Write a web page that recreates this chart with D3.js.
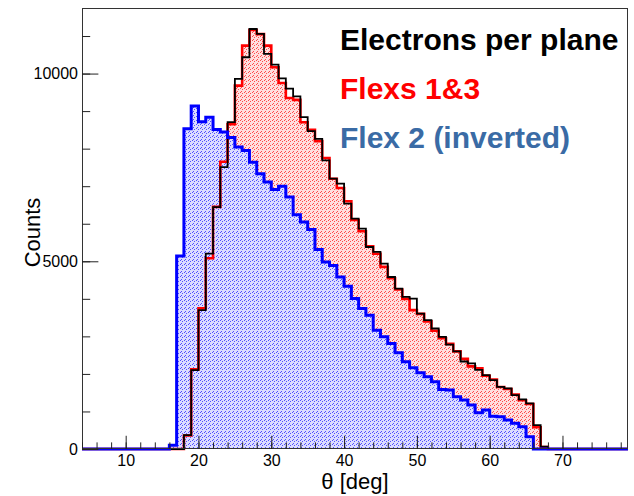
<!DOCTYPE html>
<html>
<head>
<meta charset="utf-8">
<script src="https://cdn.jsdelivr.net/npm/d3@7"></script>
<style>
  body { margin: 0; background: #fff; }
  svg { display: block; font-family: "Liberation Sans", Arial, sans-serif; }
</style>
</head>
<body>
<svg id="chart" width="634" height="496"></svg>
<script>
// Histogram binning: 1 deg bins, lower edges from 4 to 78
const binStart = 4;
const binWidth = 1;

// Electrons per plane (black outline)
const electrons = [
  0, 0, 0, 0, 0, 0, 0, 0, 0, 0, 0, 0, 0, 0,           // 4-17
  372, 2100, 3700, 5205, 6445, 7510, 8705, 9860,       // 18-25
  10435, 11187, 11055, 10523, 10240, 9870, 9600, 9390, // 26-33
  8838, 8466, 8263, 7686, 7199, 7066, 6534, 6135,      // 34-41
  5870, 5381, 5248, 4938, 4582, 4273, 4051, 4008,      // 42-49
  3608, 3431, 3210, 2987, 2780, 2600, 2330, 2280,      // 50-57
  2110, 1968, 1835, 1657, 1614, 1436, 1321, 1215,      // 58-65
  638, 62,                                             // 66-67
  0, 0, 0, 0, 0, 0, 0, 0, 0, 0, 0                      // 68-78
];

// Flexs 1&3 (red, filled)
const flexs13 = [
  0, 0, 0, 0, 0, 0, 0, 0, 0, 0, 0, 0, 0, 0,
  360, 2120, 3750, 5080, 6450, 7650, 8650, 9680,
  10745, 11160, 11050, 10745, 10170, 9750, 9350, 9300,
  8705, 8500, 8200, 7750, 7200, 6950, 6600, 6100,
  5800, 5400, 5200, 4850, 4550, 4250, 4000, 3700,
  3600, 3400, 3150, 2950, 2800, 2600, 2400, 2200,
  2150, 1950, 1850, 1650, 1600, 1450, 1300, 1200,
  580, 50,
  0, 0, 0, 0, 0, 0, 0, 0, 0, 0, 0
];

// Flex 2 inverted (blue, filled)
const flex2 = [
  0, 0, 0, 0, 0, 0, 0, 0, 0, 0, 0, 0,                 // 4-15
  100, 5140, 8530, 9135, 8715, 8835, 8510, 8445,       // 16-23
  8300, 8045, 7950, 7640, 7330, 7110, 6910, 7000,      // 24-31
  6710, 6240, 6045, 5845, 5315, 4980, 4890, 4580,      // 32-39
  4335, 4008, 3742, 3564, 3165, 2987, 2810, 2562,      // 40-47
  2323, 2163, 2030, 1923, 1790, 1587, 1569, 1391,      // 48-55
  1303, 1170, 966, 1037, 870, 860, 771, 683,           // 56-63
  594, 328,                                            // 64-65
  0, 0, 0, 0, 0, 0, 0, 0, 0, 0, 0, 0, 0                // 66-78
];

const legendLabels = ["Electrons per plane", "Flexs 1&3", "Flex 2 (inverted)"];
const xTitle = "\u03B8 [deg]";
const yTitle = "Counts";

const svg = d3.select("#chart");
const margin = { left: 82, right: 6, top: 8, bottom: 47 };
const width = +svg.attr("width");
const height = +svg.attr("height");

const nBins = electrons.length;
const xMin = binStart;
const xMax = binStart + nBins * binWidth;

const x = d3.scaleLinear()
  .domain([xMin, xMax])
  .range([margin.left, width - margin.right]);

// ROOT style: maximum times 1.05
const yMaxVal = d3.max([...electrons, ...flexs13, ...flex2]) * 1.05;
const y = d3.scaleLinear()
  .domain([0, yMaxVal])
  .range([height - margin.bottom, margin.top]);

// light dotted fill patterns, ROOT 3001 look
const defs = svg.append("defs");
function addPattern(id, bg, dot) {
  const p = defs.append("pattern")
    .attr("id", id)
    .attr("patternUnits", "userSpaceOnUse")
    .attr("width", 4).attr("height", 4);
  p.append("rect").attr("width", 4).attr("height", 4).attr("fill", bg);
  [[0, 0], [2, 1], [1, 3]].forEach(([px, py]) => {
    p.append("rect").attr("x", px).attr("y", py)
      .attr("width", 1).attr("height", 1)
      .attr("fill", dot).attr("shape-rendering", "crispEdges");
  });
}
addPattern("redDots", "#ffdede", "#ff4a4a");
addPattern("blueDots", "#dcdcff", "#5050ff");

function toBins(values) {
  const pts = values.map((v, i) => ({ x: binStart + i * binWidth, v }));
  pts.push({ x: xMax, v: values[values.length - 1] });
  return pts;
}

const area = d3.area()
  .x(d => x(d.x))
  .y0(y(0))
  .y1(d => y(d.v))
  .curve(d3.curveStepAfter);

const line = d3.line()
  .x(d => x(d.x))
  .y(d => y(d.v))
  .curve(d3.curveStepAfter);

const histLayer = svg.append("g");

// fills
histLayer.append("path")
  .attr("d", area(toBins(flexs13)))
  .attr("fill", "url(#redDots)");
histLayer.append("path")
  .attr("d", area(toBins(flex2)))
  .attr("fill", "url(#blueDots)");

// outlines
histLayer.append("path")
  .attr("d", line(toBins(flexs13)))
  .attr("fill", "none").attr("stroke", "#ff0000").attr("stroke-width", 2.6);
histLayer.append("path")
  .attr("d", line(toBins(electrons)))
  .attr("fill", "none").attr("stroke", "#000").attr("stroke-width", 1.8);
histLayer.append("path")
  .attr("d", line(toBins(flex2)))
  .attr("fill", "none").attr("stroke", "#0000ff").attr("stroke-width", 3);

// frame
svg.append("rect")
  .attr("x", margin.left + 0.5)
  .attr("y", margin.top + 0.5)
  .attr("width", width - margin.left - margin.right - 1)
  .attr("height", height - margin.top - margin.bottom - 1)
  .attr("fill", "none")
  .attr("stroke", "#333")
  .attr("stroke-width", 1);

// x axis: minor ticks every 2, major every 10
const plotH = height - margin.top - margin.bottom;
const plotW = width - margin.left - margin.right;
const xMinor = d3.range(Math.ceil(xMin / 2) * 2, xMax + 0.01, 2);
const xMajor = d3.range(10, xMax, 10);

const xAxisMinor = svg.append("g")
  .attr("transform", `translate(0,${height - margin.bottom})`)
  .call(d3.axisBottom(x).tickValues(xMinor).tickSize(-plotH * 0.015).tickFormat(""));
const xAxisMajor = svg.append("g")
  .attr("transform", `translate(0,${height - margin.bottom})`)
  .call(d3.axisBottom(x).tickValues(xMajor).tickSize(-plotH * 0.03).tickPadding(6));

// y axis: minor every 1000, major every 5000
const yMinor = d3.range(0, yMaxVal, 1000);
const yMajor = d3.range(0, yMaxVal, 5000);
const yAxisMinor = svg.append("g")
  .attr("transform", `translate(${margin.left},0)`)
  .call(d3.axisLeft(y).tickValues(yMinor).tickSize(-plotW * 0.015).tickFormat(""));
const yAxisMajor = svg.append("g")
  .attr("transform", `translate(${margin.left},0)`)
  .call(d3.axisLeft(y).tickValues(yMajor).tickSize(-plotW * 0.03).tickPadding(4).tickFormat(d3.format("d")));

[xAxisMinor, xAxisMajor, yAxisMinor, yAxisMajor].forEach(g => {
  g.select(".domain").remove();
  g.selectAll("line").attr("stroke", "#222");
  g.selectAll("text")
    .attr("fill", "#000")
    .style("font-family", "'Liberation Sans', Arial, sans-serif")
    .style("font-size", "16px");
});

// axis titles
svg.append("text")
  .attr("x", margin.left + plotW / 2)
  .attr("y", 489)
  .attr("text-anchor", "middle")
  .style("font-size", "22px")
  .text(xTitle);

svg.append("text")
  .attr("transform", `translate(40,${margin.top + plotH / 2 + 4}) rotate(-90)`)
  .attr("text-anchor", "middle")
  .style("font-size", "22px")
  .text(yTitle);

// legend text
const legendColors = ["#000000", "#ff0000", "#3a6ba5"];
const legendY = [50, 99, 148];
svg.append("g").selectAll("text")
  .data(legendLabels)
  .enter().append("text")
  .attr("x", 340)
  .attr("y", (d, i) => legendY[i])
  .attr("fill", (d, i) => legendColors[i])
  .style("font-size", "30px")
  .style("font-weight", "bold")
  .text(d => d);
</script>
</body>
</html>
